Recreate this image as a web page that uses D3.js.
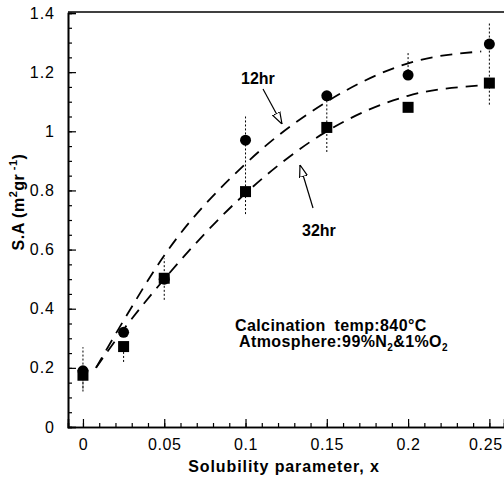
<!DOCTYPE html>
<html>
<head>
<meta charset="utf-8">
<script src="https://cdn.jsdelivr.net/npm/d3@7"></script>
<style>
  body { margin: 0; background: #fff; }
  svg text { font-family: "Liberation Sans", Arial, Helvetica, sans-serif; fill: #000; }
</style>
</head>
<body>
<div id="chart"></div>
<script>
// measured points
const xVals = [0, 0.025, 0.05, 0.1, 0.15, 0.2, 0.25];
const sa12 = [0.19, 0.32, 0.50, 0.97, 1.12, 1.19, 1.295];
const sa32 = [0.175, 0.272, 0.503, 0.796, 1.013, 1.081, 1.163];
const err12Lo = [0.13, 0.32, 0.50, 0.80, 1.03, 1.19, 1.29];
const err12Hi = [0.27, 0.32, 0.57, 1.05, 1.12, 1.27, 1.37];
const err32Lo = [0.12, 0.22, 0.43, 0.72, 0.93, 1.08, 1.09];
const err32Hi = [0.20, 0.272, 0.503, 0.796, 1.013, 1.081, 1.29];

// dashed fit curves
const fitX = [0.008, 0.025, 0.05, 0.1, 0.15, 0.2, 0.245];
const fit12 = [0.20, 0.36, 0.58, 0.89, 1.10, 1.23, 1.27];
const fit32 = [0.20, 0.33, 0.50, 0.79, 1.00, 1.12, 1.155];

const xTicks = [0, 0.05, 0.1, 0.15, 0.2, 0.25];
const yTicks = [0, 0.2, 0.4, 0.6, 0.8, 1, 1.2, 1.4];

const width = 504, height = 480;

let svg = d3.select("#chart").append("svg")
    .attr("width", width)
    .attr("height", height);

let x = d3.scaleLinear().domain([-0.0092, 0.259]).range([68, 504]);
let y = d3.scaleLinear().domain([0, 1.4]).range([427, 13]);

// frame: top line
svg.append("line")
    .attr("x1", 68).attr("x2", 504)
    .attr("y1", 12).attr("y2", 12)
    .attr("stroke", "#000").attr("stroke-width", 1.6);

// minor ticks
let xMinor = d3.range(0, 26).map(d => d / 100);
let yMinor = d3.range(0, 29).map(d => d * 0.05);

let xAxisMinor = d3.axisBottom(x).tickValues(xMinor).tickSize(-4).tickFormat("");
let yAxisMinor = d3.axisLeft(y).tickValues(yMinor).tickSize(-4).tickFormat("");

svg.append("g").attr("transform", "translate(0,427)").call(xAxisMinor);
svg.append("g").attr("transform", "translate(68,0)").call(yAxisMinor);

let xAxis = d3.axisBottom(x).tickValues(xTicks).tickSize(-8).tickPadding(12)
    .tickFormat(d => d3.format("")(+d.toFixed(2)));
let yAxis = d3.axisLeft(y).tickValues(yTicks).tickSize(-8).tickPadding(13)
    .tickFormat(d => d3.format("")(+d.toFixed(1)));

svg.append("g").attr("class", "xaxis").attr("transform", "translate(0,427)").call(xAxis);
svg.append("g").attr("class", "yaxis").attr("transform", "translate(68,0)").call(yAxis);

svg.selectAll(".xaxis text, .yaxis text")
    .style("font-size", "16px")
    .style("font-family", "'Liberation Sans', Arial, sans-serif");
svg.selectAll(".yaxis text").style("letter-spacing", "1px");
svg.selectAll(".xaxis text").style("letter-spacing", "0.6px");
// last label sits against the right edge
svg.selectAll(".xaxis .tick text").filter(d => d === 0.25).attr("dx", -4);
svg.selectAll(".domain").attr("stroke-width", 1.6);
svg.selectAll(".tick line").attr("stroke-width", 1.2);

// axis titles
svg.append("text")
    .attr("x", 284).attr("y", 472)
    .attr("text-anchor", "middle")
    .style("font-weight", "bold").style("font-size", "16px")
    .style("letter-spacing", "0.9px")
    .text("Solubility parameter, x");

let yl = svg.append("text")
    .attr("transform", "translate(24,202) rotate(-90)")
    .attr("text-anchor", "middle")
    .style("font-weight", "bold").style("font-size", "16px")
    .style("letter-spacing", "0.5px");
yl.append("tspan").text("S.A (m");
yl.append("tspan").attr("dy", -7).style("font-size", "11px").text("2");
yl.append("tspan").attr("dy", 7).text("gr");
yl.append("tspan").attr("dy", -7).style("font-size", "11px").text(" -1");
yl.append("tspan").attr("dy", 7).text(")");

// dashed fits
let line = d3.line()
    .x((d, i) => x(fitX[i]))
    .y(d => y(d))
    .curve(d3.curveMonotoneX);

[fit12, fit32].forEach(s => {
    svg.append("path")
        .datum(s)
        .attr("d", line)
        .attr("fill", "none")
        .attr("stroke", "#000")
        .attr("stroke-width", 1.8)
        .attr("stroke-dasharray", "12,8");
});

// error bars (dotted)
function errBars(lo, hi) {
    svg.append("g").selectAll("line")
        .data(xVals)
        .enter().append("line")
        .attr("x1", d => x(d)).attr("x2", d => x(d))
        .attr("y1", (d, i) => y(lo[i]))
        .attr("y2", (d, i) => y(hi[i]))
        .attr("stroke", "#000")
        .attr("stroke-width", 1)
        .attr("stroke-dasharray", "2,2");
}
errBars(err12Lo, err12Hi);
errBars(err32Lo, err32Hi);

// markers
svg.append("g").selectAll("circle")
    .data(sa12)
    .enter().append("circle")
    .attr("cx", (d, i) => x(xVals[i]))
    .attr("cy", d => y(d))
    .attr("r", 5.5)
    .attr("fill", "#000");

svg.append("g").selectAll("rect")
    .data(sa32)
    .enter().append("rect")
    .attr("x", (d, i) => x(xVals[i]) - 5.5)
    .attr("y", d => y(d) - 5.5)
    .attr("width", 11).attr("height", 11)
    .attr("fill", "#000");

// annotations
svg.append("defs").append("marker")
    .attr("id", "open")
    .attr("viewBox", "0 0 12 10")
    .attr("refX", 12).attr("refY", 5)
    .attr("markerWidth", 12).attr("markerHeight", 10)
    .attr("markerUnits", "userSpaceOnUse")
    .attr("orient", "auto")
    .append("path")
    .attr("d", "M0,1 L12,5 L0,9 Z")
    .attr("fill", "#fff")
    .attr("stroke", "#000")
    .attr("stroke-width", 1.2);

svg.append("text").attr("x", 241).attr("y", 84)
    .style("font-weight", "bold").style("font-size", "16px").text("12hr");
svg.append("line")
    .attr("x1", 263).attr("y1", 89).attr("x2", 282).attr("y2", 124)
    .attr("stroke", "#000").attr("stroke-width", 1.2)
    .attr("marker-end", "url(#open)");

svg.append("text").attr("x", 302).attr("y", 236)
    .style("font-weight", "bold").style("font-size", "16px").text("32hr");
svg.append("line")
    .attr("x1", 313).attr("y1", 208).attr("x2", 300).attr("y2", 165)
    .attr("stroke", "#000").attr("stroke-width", 1.2)
    .attr("marker-end", "url(#open)");

svg.append("text").attr("x", 235).attr("y", 331)
    .style("font-weight", "bold").style("font-size", "16px")
    .style("letter-spacing", "0.4px")
    .attr("word-spacing", "4px")
    .text("Calcination temp:840\u00b0C");

let atm = svg.append("text").attr("x", 239).attr("y", 347)
    .style("font-weight", "bold").style("font-size", "16px")
    .style("letter-spacing", "0.4px");
atm.append("tspan").text("Atmosphere:99%N");
atm.append("tspan").attr("dy", 4).style("font-size", "10px").text("2");
atm.append("tspan").attr("dy", -4).text("&1%O");
atm.append("tspan").attr("dy", 4).style("font-size", "10px").text("2");
</script>
</body>
</html>
